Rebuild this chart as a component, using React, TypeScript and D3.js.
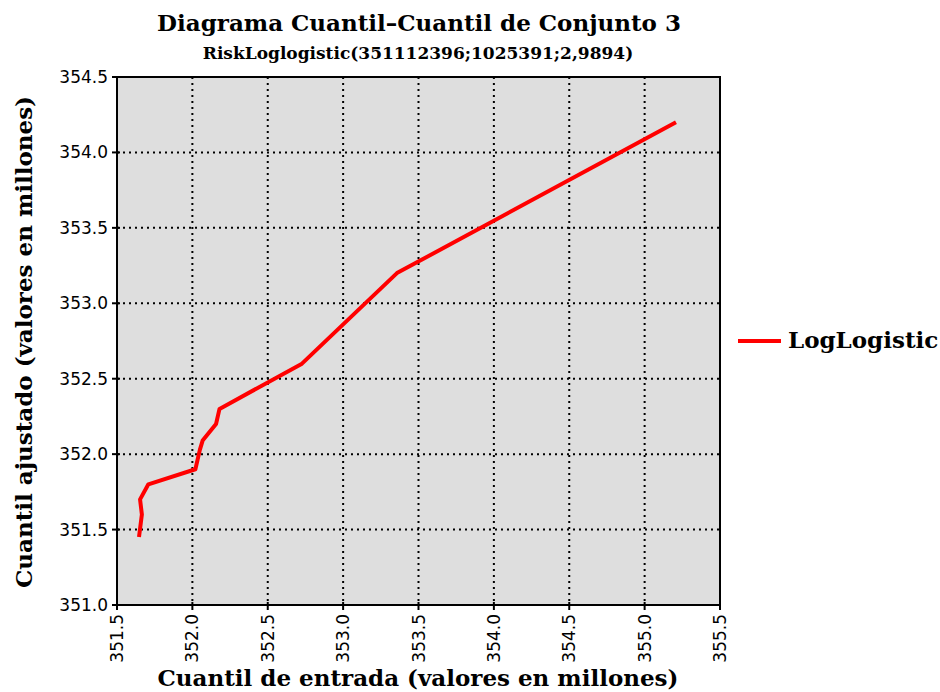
import React from "react";
import * as d3 from "d3";

const inputQuantiles = [351.646, 351.665, 351.653, 351.708, 352.02, 352.05, 352.068, 352.157, 352.18, 352.727, 353.357, 355.208];
const fittedQuantiles = [351.45, 351.6, 351.7, 351.8, 351.9, 352.03, 352.09, 352.2, 352.3, 352.6, 353.2, 354.2];
const xTicks = [351.5, 352.0, 352.5, 353.0, 353.5, 354.0, 354.5, 355.0, 355.5];
const yTicks = [351.0, 351.5, 352.0, 352.5, 353.0, 353.5, 354.0, 354.5];
const seriesName = "LogLogistic";

const serif = "'DejaVu Serif', serif";
const sans = "'DejaVu Sans', sans-serif";

export default function App() {
  const width = 940;
  const height = 692;
  const left = 117, right = 720, top = 77, bottom = 605;

  const x = d3.scaleLinear().domain([351.5, 355.5]).range([left, right]);
  const y = d3.scaleLinear().domain([351.0, 354.5]).range([bottom, top]);

  const points = inputQuantiles.map((v, i) => [v, fittedQuantiles[i]] as [number, number]);
  const line = d3.line<[number, number]>().x((d) => x(d[0])).y((d) => y(d[1]));

  return (
    <svg width={width} height={height} style={{ position: "absolute", left: 0, top: 0 }}>
      <rect x={0} y={0} width={width} height={height} fill="#fff" />
      <text x={419} y={31} textAnchor="middle" fontFamily={serif} fontWeight="bold" fontSize={23}>
        Diagrama Cuantil–Cuantil de Conjunto 3
      </text>
      <text x={418} y={59} textAnchor="middle" fontFamily={serif} fontWeight="bold" fontSize={17}>
        RiskLoglogistic(351112396;1025391;2,9894)
      </text>

      <rect x={left} y={top} width={right - left} height={bottom - top} fill="#dedede" />

      {/* grid */}
      {xTicks.slice(1, -1).map((t) => (
        <line key={"gx" + t} x1={x(t)} x2={x(t)} y1={top} y2={bottom} stroke="#000" strokeWidth={2} strokeDasharray="2,4" />
      ))}
      {yTicks.slice(1, -1).map((t) => (
        <line key={"gy" + t} x1={left} x2={right} y1={y(t)} y2={y(t)} stroke="#000" strokeWidth={2} strokeDasharray="2,4" />
      ))}

      <rect x={left} y={top} width={right - left} height={bottom - top} fill="none" stroke="#000" strokeWidth={2} />

      {/* ticks */}
      {xTicks.map((t) => (
        <g key={"tx" + t}>
          <line x1={x(t)} x2={x(t)} y1={bottom - 3} y2={bottom + 5} stroke="#000" strokeWidth={2} />
          <text
            transform={`translate(${x(t) + 6},${bottom + 9}) rotate(-90)`}
            textAnchor="end"
            fontFamily={sans}
            fontSize={17}
          >
            {t.toFixed(1)}
          </text>
        </g>
      ))}
      {yTicks.map((t) => (
        <g key={"ty" + t}>
          <line x1={left - 5} x2={left + 3} y1={y(t)} y2={y(t)} stroke="#000" strokeWidth={2} />
          <text x={left - 9} y={y(t) + 6} textAnchor="end" fontFamily={sans} fontSize={17}>
            {t.toFixed(1)}
          </text>
        </g>
      ))}

      <path d={line(points) ?? ""} fill="none" stroke="#ff0000" strokeWidth={4} strokeLinejoin="round" />

      <text x={418} y={686} textAnchor="middle" fontFamily={serif} fontWeight="bold" fontSize={23}>
        Cuantil de entrada (valores en millones)
      </text>
      <text transform="translate(32,342) rotate(-90)" textAnchor="middle" fontFamily={serif} fontWeight="bold" fontSize={23}>
        Cuantil ajustado (valores en millones)
      </text>

      <line x1={738} x2={781} y1={341} y2={341} stroke="#ff0000" strokeWidth={4} />
      <text x={788} y={348} fontFamily={serif} fontWeight="bold" fontSize={23}>
        {seriesName}
      </text>
    </svg>
  );
}
